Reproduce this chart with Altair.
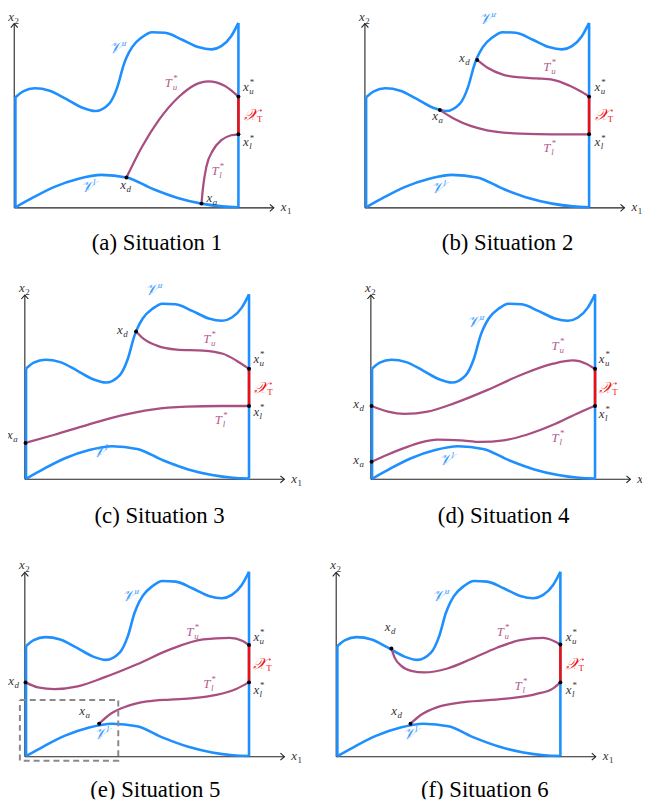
import altair as alt
import pandas as pd

# ---------------- shared boundary of the viability set (local px units, origin at axes) ----
UPPER_X = [1.2, 9, 20.7, 35.7, 52.3, 69, 81.7, 95.7, 104, 110.7, 113.3, 119, 129, 139, 152.3, 169, 185.7, 199, 209, 219, 226.3]
UPPER_Y = [111.7, 117.7, 120.7, 118.3, 110, 101, 97.7, 105, 121.7, 145, 151.7, 162.3, 172.3, 177.3, 176.7, 170, 162.3, 160, 163.3, 173.3, 186.7]
LOWER_X = [1.2, 20, 40, 65, 88, 113.3, 140, 165, 189, 210, 226.3]
LOWER_Y = [0.5, 11, 21, 29.5, 33.3, 30.7, 19, 10, 4.3, 1.5, 0.7]
RIGHT_X = 226.3

# ---------------- optimal trajectories per situation ----------------
A_TU_X = [113.3, 129, 145.7, 165.7, 185.7, 195.7, 212.3, 226.3]
A_TU_Y = [30.7, 61.7, 88.3, 111.7, 125.7, 127.7, 123.3, 112.3]
A_TL_X = [189, 190.7, 194, 200.7, 209, 219, 226.3]
A_TL_Y = [4.3, 21.7, 41.7, 58.3, 68.3, 73.3, 74.3]

B_TU_X = [113.3, 123.3, 140, 156.7, 173.3, 190, 206.7, 216.7, 226.7]
B_TU_Y = [149.3, 141.7, 134.3, 131.7, 130.7, 129.3, 123.3, 118.3, 112.3]
B_TL_X = [75.7, 90, 106.7, 123.3, 156.7, 190, 226.7]
B_TL_Y = [98.7, 90, 82.7, 78.3, 75, 74.3, 74.3]

C_TU_X = [112.3, 120, 133.3, 153.3, 180, 200, 213.3, 226]
C_TU_Y = [149.3, 141.7, 135, 131, 130, 126.7, 120, 111.7]
C_TL_X = [0.7, 30, 63.3, 96.7, 130, 163.3, 196.7, 226]
C_TL_Y = [36.7, 45, 55, 64.3, 70.7, 73.3, 74, 74]

D_TU_X = [0.7, 17.3, 34, 57.3, 84, 117.3, 150.7, 184, 204, 217.3, 225.7]
D_TU_Y = [74, 68.3, 66, 68.3, 76.7, 90, 105, 116.7, 120, 116.7, 111.7]
D_TL_X = [0.7, 17.3, 34, 50.7, 67.3, 90.7, 110.7, 134, 157.3, 184, 207.3, 225.7]
D_TL_Y = [17.7, 25, 31.7, 37.3, 40, 39.3, 37.7, 39.3, 45, 55, 66, 74]

E_TU_X = [0.7, 13.3, 30, 53.3, 80, 113.3, 146.7, 180, 206.7, 220, 226]
E_TU_Y = [75, 70, 68.3, 71, 80, 93.3, 108.3, 118.3, 120, 116.7, 112.7]
E_TL_X = [75, 86.7, 103.3, 123.3, 146.7, 170, 193.3, 213.3, 226]
E_TL_Y = [33.3, 43.3, 51, 55.7, 57.7, 59, 62.3, 68.3, 75]

F_TU_X = [55.7, 59, 65.7, 75.7, 89, 112.3, 135.7, 162.3, 185.7, 209, 226.3]
F_TU_Y = [109.3, 100, 91.7, 86.7, 85, 89, 98.3, 110, 117.7, 120, 113.3]
F_TL_X = [75, 85.7, 102.3, 129, 169, 202.3, 219, 226.3]
F_TL_Y = [33.3, 42.3, 50, 55, 58.3, 63.3, 69, 75]

# dashed zoom box of situation 5
E_BOX_X = [-5, 94.3, 94.3, -5, -5]
E_BOX_Y = [57.3, 57.3, -4, -4, 57.3]

# annotations: (kind, left x, centre y)
A_LABELS = [("Vu", 96, 161), ("Vl", 67, 21), ("Tu", 152, 126), ("Tl", 199, 37), ("xu", 231, 122),
            ("xl", 231, 66), ("XT", 232, 93.3), ("xd", 107, 23), ("xa", 194, 10)]
B_LABELS = [("Vu", 115, 191), ("Vl", 66.7, 20), ("xd", 95, 151), ("xa", 68, 93), ("Tu", 180, 142.3),
            ("Tl", 180, 60), ("xu", 231.7, 122), ("xl", 231.7, 66), ("XT", 232, 93.3)]
C_LABELS = [("Vu", 121.7, 191), ("Vl", 68.3, 28), ("xd", 93, 151), ("xa", -18, 44.5), ("Tu", 180, 141.7),
            ("Tl", 191.7, 60), ("xu", 230.7, 121), ("xl", 230.7, 67.5), ("XT", 231.7, 91.7)]
D_LABELS = [("Vu", 97.3, 159), ("Vl", 69, 19), ("xd", -17.7, 75.5), ("xa", -17.7, 19), ("Tu", 182.3, 135),
            ("Tl", 182.3, 41.7), ("xu", 230, 121), ("xl", 230, 66), ("XT", 230.7, 91.7)]
E_LABELS = [("Vu", 98.3, 162), ("Vl", 70, 22.5), ("xd", -16.7, 76.5), ("xa", 55, 46.5), ("Tu", 163, 125.7),
            ("Tl", 180, 73.3), ("xu", 230.7, 121), ("xl", 230.7, 67), ("XT", 230.7, 93.3)]
F_LABELS = [("Vu", 97, 162), ("Vl", 67, 22.5), ("xd", 49, 130.5), ("xd", 55.7, 46.5), ("Tu", 162, 125.7),
            ("Tl", 180, 71.7), ("xu", 231.7, 121), ("xl", 231.7, 67), ("XT", 231.7, 93.3)]

CAPTIONS = ["(a) Situation 1", "(b) Situation 2", "(c) Situation 3",
            "(d) Situation 4", "(e) Situation 5", "(f) Situation 6"]
CAPTION_POS = [(144, -36), (144, -36), (136, -36.7), (134, -36.7), (131.7, -33.3), (150, -33.3)]

BLUE = "#1E8FFF"
PURPLE = "#A84F80"
RED = "#EE0F0F"
GRAY = "#333333"
LBLUE = "#3A9BFF"
LPURPLE = "#B65A8E"
SERIF = "Liberation Serif, Times New Roman, Times, serif"

W, H = 320, 247
AXIS_X = 262
AXIS_Y = 186

# kind -> (main, sub, sup, colour, main width, sub italic, main size)
KINDS = {
    "xu": ("x", "u", "*", GRAY, 6.3, True, 13),
    "xl": ("x", "l", "*", GRAY, 6.3, True, 13),
    "xd": ("x", "d", None, GRAY, 6.3, True, 13),
    "xa": ("x", "a", None, GRAY, 6.3, True, 13),
    "Tu": ("T", "u", "*", LPURPLE, 8.0, True, 13),
    "Tl": ("T", "l", "*", LPURPLE, 8.0, True, 13),
    "Vu": ("𝒱", None, "u", LBLUE, 12.0, True, 16),
    "Vl": ("𝒱", None, "l", LBLUE, 12.0, True, 16),
    "XT": ("𝒳", "T", None, RED, 13.0, False, 16),
    "x1": ("x", "1", None, GRAY, 6.3, False, 13),
    "x2": ("x", "2", None, GRAY, 6.3, False, 13),
}


def label_rows(labels):
    rows = []
    for kind, x, y in labels:
        main, sub, sup, col, w, sub_it, ms = KINDS[kind]
        rows.append(dict(x=x, y=y, t=main, fs=ms, c=col, it=1))
        if sub:
            rows.append(dict(x=x + w, y=y - 4, t=sub, fs=9, c=col, it=1 if sub_it else 0))
        if sup:
            rows.append(dict(x=x + w + 0.5, y=y + 5, t=sup, fs=9, c=col, it=0 if sup == "*" else 1))
    return rows


def panel(idx, tu, tl, red, points, labels, ox, top, box=None):
    xs = alt.Scale(domain=[-ox, W - ox], nice=False, zero=False)
    ys = alt.Scale(domain=[top - H, top], nice=False, zero=False)

    def enc(extra=None):
        d = dict(x=alt.X("x:Q", scale=xs, axis=None), y=alt.Y("y:Q", scale=ys, axis=None))
        if extra:
            d.update(extra)
        return d

    layers = []
    # axes with open arrow heads
    ax = []
    for s, pts in [("xa", [(0, 0), (AXIS_X, 0)]), ("xh", [(AXIS_X - 4, 3.5), (AXIS_X, 0), (AXIS_X - 4, -3.5)]),
                   ("ya", [(0, 0), (0, AXIS_Y)]), ("yh", [(-3.5, AXIS_Y - 4), (0, AXIS_Y), (3.5, AXIS_Y - 4)])]:
        for i, (px, py) in enumerate(pts):
            ax.append(dict(s=s, i=i, x=px, y=py))
    layers.append(alt.Chart(pd.DataFrame(ax)).mark_line(color="#222222", strokeWidth=1.1, clip=True)
                  .encode(**enc(dict(detail="s:N", order="i:Q"))))

    # boundary curves
    bd = [dict(s="u", i=i, x=a, y=b) for i, (a, b) in enumerate(zip(UPPER_X, UPPER_Y))]
    bd += [dict(s="l", i=i, x=a, y=b) for i, (a, b) in enumerate(zip(LOWER_X, LOWER_Y))]
    layers.append(alt.Chart(pd.DataFrame(bd)).mark_line(color=BLUE, strokeWidth=2.6, interpolate="monotone", clip=True)
                  .encode(**enc(dict(detail="s:N", order="i:Q"))))
    vt = [dict(s="L", i=0, x=UPPER_X[0], y=LOWER_Y[0]), dict(s="L", i=1, x=UPPER_X[0], y=UPPER_Y[0]),
          dict(s="R", i=0, x=RIGHT_X, y=LOWER_Y[-1]), dict(s="R", i=1, x=RIGHT_X, y=UPPER_Y[-1])]
    layers.append(alt.Chart(pd.DataFrame(vt)).mark_line(color=BLUE, strokeWidth=2.6, clip=True)
                  .encode(**enc(dict(detail="s:N", order="i:Q"))))

    # trajectories
    tr = [dict(s="u", i=i, x=a, y=b) for i, (a, b) in enumerate(zip(*tu))]
    tr += [dict(s="l", i=i, x=a, y=b) for i, (a, b) in enumerate(zip(*tl))]
    layers.append(alt.Chart(pd.DataFrame(tr)).mark_line(color=PURPLE, strokeWidth=2.3, interpolate="monotone", clip=True)
                  .encode(**enc(dict(detail="s:N", order="i:Q"))))

    # target set
    rd = [dict(i=0, x=RIGHT_X, y=red[0]), dict(i=1, x=RIGHT_X, y=red[1])]
    layers.append(alt.Chart(pd.DataFrame(rd)).mark_line(color=RED, strokeWidth=2.6, clip=True)
                  .encode(**enc(dict(order="i:Q"))))

    if box:
        bx = [dict(i=i, x=a, y=b) for i, (a, b) in enumerate(zip(*box))]
        layers.append(alt.Chart(pd.DataFrame(bx)).mark_line(color="#8a8a8a", strokeWidth=2, strokeDash=[6, 4], clip=True)
                      .encode(**enc(dict(order="i:Q"))))

    # points
    pt = [dict(x=a, y=b) for a, b in points]
    layers.append(alt.Chart(pd.DataFrame(pt)).mark_circle(color="black", size=16, opacity=1, clip=True)
                  .encode(**enc()))

    # labels
    rows = label_rows(labels + [("x1", AXIS_X + 7, 0.5), ("x2", -6, 193)])
    tdf = pd.DataFrame(rows)
    for it, style in [(1, "italic"), (0, "normal")]:
        sub = tdf[tdf.it == it]
        if len(sub):
            layers.append(alt.Chart(sub).mark_text(font=SERIF, fontStyle=style, align="left", baseline="middle", clip=True)
                          .encode(**enc(dict(text="t:N", size=alt.Size("fs:Q", scale=None),
                                                 color=alt.Color("c:N", scale=None)))))

    cx, cy = CAPTION_POS[idx]
    cap = pd.DataFrame([dict(x=cx, y=cy, t=CAPTIONS[idx])])
    layers.append(alt.Chart(cap).mark_text(font=SERIF, fontSize=23, align="center", baseline="middle", color="black", clip=True)
                  .encode(**enc(dict(text="t:N"))))

    return alt.layer(*layers).properties(width=W, height=H)


pa = panel(0, (A_TU_X, A_TU_Y), (A_TL_X, A_TL_Y), (74.3, 112.3),
           [(113.3, 30.7), (189, 4.3), (RIGHT_X, 112.3), (RIGHT_X, 74.3)], A_LABELS, 6.3, 198)
pb = panel(1, (B_TU_X, B_TU_Y), (B_TL_X, B_TL_Y), (74.3, 112.3),
           [(113.3, 149.3), (75.7, 98.7), (RIGHT_X, 112.3), (RIGHT_X, 74.3)], B_LABELS, 40.3, 198)
pc = panel(2, (C_TU_X, C_TU_Y), (C_TL_X, C_TL_Y), (74, 111.7),
           [(112.3, 149.3), (0.7, 36.7), (RIGHT_X, 111.7), (RIGHT_X, 74)], C_LABELS, 17, 198)
pd_ = panel(3, (D_TU_X, D_TU_Y), (D_TL_X, D_TL_Y), (74, 111.7),
            [(0.7, 74), (0.7, 17.7), (RIGHT_X, 111.7), (RIGHT_X, 74)], D_LABELS, 46.3, 198)
pe = panel(4, (E_TU_X, E_TU_Y), (E_TL_X, E_TL_Y), (75, 112.7),
           [(0.7, 75), (75, 33.3), (RIGHT_X, 112.7), (RIGHT_X, 75)], E_LABELS, 17, 204,
           box=(E_BOX_X, E_BOX_Y))
pf = panel(5, (F_TU_X, F_TU_Y), (F_TL_X, F_TL_Y), (75, 113.3),
           [(55.7, 109.3), (75, 33.3), (RIGHT_X, 113.3), (RIGHT_X, 75)], F_LABELS, 11.3, 204)

row1 = alt.hconcat(pa, pb, spacing=0)
row2 = alt.hconcat(pc, pd_, spacing=0)
row3 = alt.hconcat(pe, pf, spacing=0)
chart = alt.vconcat(row1, row2, row3, spacing=27).properties(padding=0).configure_view(stroke=None)

chart.save("out.html", embed_options={"renderer": "svg", "actions": False})
